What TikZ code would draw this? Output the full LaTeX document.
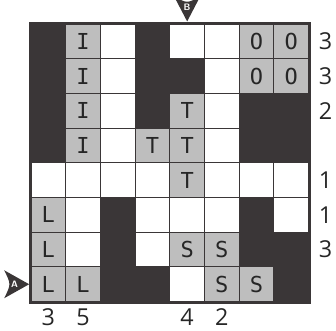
\documentclass[tikz,border=0pt]{standalone}
\usepackage{fontspec}
\setmainfont{Open Sans}
\newfontfamily\letterfont{DejaVu Sans Mono}
\definecolor{dk}{HTML}{3A3637}
\definecolor{gr}{HTML}{BEBEBE}
\def\txtD{}\def\txtW{}\def\txtI{I}\def\txtO{O}\def\txtT{T}\def\txtL{L}\def\txtS{S}
\tikzset{
  cell/.style={draw=dk, line width=0.8pt, minimum width=26.0pt, minimum height=26.0pt,
    inner sep=0pt, anchor=center, font=\letterfont\fontsize{16.5}{16.5}\selectfont, text=black!85},
  tD/.style={fill=dk},
  tW/.style={fill=white},
  tI/.style={fill=gr}, tO/.style={fill=gr}, tT/.style={fill=gr},
  tL/.style={fill=gr}, tS/.style={fill=gr},
  clue/.style={inner sep=0pt, font=\fontsize{17.5}{17.5}\selectfont, text=black!85},
  markshape/.style={fill=dk},
  marklabel/.style={inner sep=0pt, text=white, font=\sffamily\bfseries\fontsize{7}{7}\selectfont}
}
\begin{document}
\begin{tikzpicture}[x=0.75pt, y=-0.75pt]
\useasboundingbox (0,0) rectangle (336,331);
\foreach \r/\cells in {0/{D,I,W,D,W,W,O,O},1/{D,I,W,D,D,W,O,O},2/{D,I,W,D,T,W,D,D},3/{D,I,W,T,T,W,D,D},4/{W,W,W,W,T,W,W,W},5/{L,W,D,W,W,W,D,W},6/{L,W,D,W,S,S,D,D},7/{L,L,D,D,W,S,S,D}}{
  \foreach \t [count=\c from 0] in \cells {
    \node[cell, t\t] (c-\r-\c) at ({31+34.7*(\c+0.5)},{24+34.7*(\r+0.5)}) {\csname txt\t\endcsname};
  }
}
\draw[dk, line width=2.2pt] (c-0-0.north west) rectangle (c-7-7.south east);
% right clues
\node[clue] (r0) at ([xshift=12.4pt]c-0-7.east) {3};
\node[clue] (r1) at ([xshift=12.4pt]c-1-7.east) {3};
\node[clue] (r2) at ([xshift=12.4pt]c-2-7.east) {2};
\node[clue] (r4) at ([xshift=12.4pt]c-4-7.east) {1};
\node[clue] (r5) at ([xshift=12.4pt]c-5-7.east) {1};
\node[clue] (r6) at ([xshift=12.4pt]c-6-7.east) {3};
% bottom clues
\node[clue] (b0) at ([yshift=-11.5pt]c-7-0.south) {3};
\node[clue] (b1) at ([yshift=-11.5pt]c-7-1.south) {5};
\node[clue] (b4) at ([yshift=-11.5pt]c-7-4.south) {4};
\node[clue] (b5) at ([yshift=-11.5pt]c-7-5.south) {2};
% markers
\coordinate (tipB) at ([yshift=1.5pt]c-0-4.north);
\coordinate (tipA) at ([xshift=-1pt]c-7-0.west);
\fill[markshape, shift={(tipB)}] (0,0) -- (-13,-25) .. controls (0,-18) .. (13,-25) -- cycle;
\node[marklabel] (labB) at ([yshift=10.5pt]tipB) {B};
\fill[markshape, shift={(tipA)}] (0,0) -- (-25,-14) .. controls (-18,0) .. (-25,14) -- cycle;
\node[marklabel] (labA) at ([xshift=-11pt]tipA) {A};
\end{tikzpicture}
\end{document}
